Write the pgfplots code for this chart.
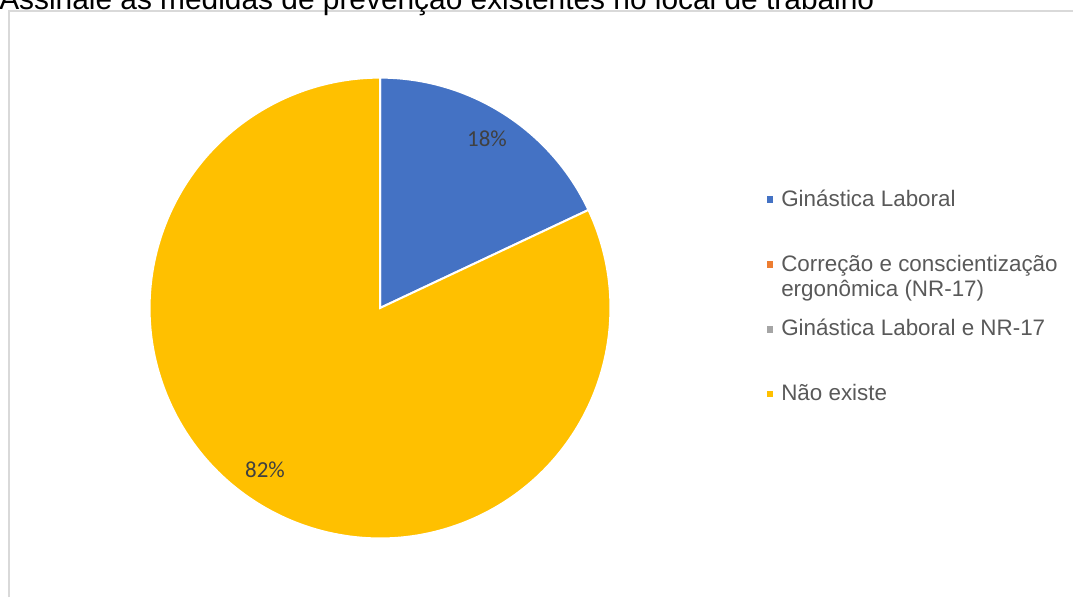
\documentclass[border=0pt]{standalone}
\usepackage{pgfplots}
\pgfplotsset{compat=1.18}
\usepackage{fontspec}
\setmainfont{Liberation Sans}
\newfontfamily\calibri{Carlito}
\definecolor{cBlue}{HTML}{4472C4}
\definecolor{cOrange}{HTML}{ED7D31}
\definecolor{cGray}{HTML}{A5A5A5}
\definecolor{cYellow}{HTML}{FFC000}
\definecolor{legtext}{HTML}{595959}
\definecolor{labtext}{HTML}{404040}
\definecolor{frame}{HTML}{D9D9D9}
% data (percent)
\def\vA{18}  % Ginástica Laboral
\def\vB{0}   % Correção e conscientização ergonômica (NR-17)
\def\vC{0}   % Ginástica Laboral e NR-17
\def\vD{82}  % Não existe
\pgfmathsetmacro\aA{90}
\pgfmathsetmacro\aB{\aA-3.6*\vA}
\pgfmathsetmacro\aC{\aB-3.6*\vB}
\pgfmathsetmacro\aD{\aC-3.6*\vC}
\pgfmathsetmacro\aE{\aD-3.6*\vD}
\def\R{172.8pt}
\begin{document}
\begin{tikzpicture}
\begin{axis}[
  width=804.75pt, height=447.75pt, scale only axis,
  xmin=0, xmax=1073, ymin=0, ymax=597, y dir=reverse,
  hide axis, clip=false]
% frame
\draw[frame, line width=1.2pt] (axis cs:9,597) -- (axis cs:9,11) -- (axis cs:1073,11);
% title
\node[anchor=base west, font=\fontsize{22.4pt}{26pt}\selectfont, text=black, inner sep=0pt] at (axis cs:-1,9) {Assinale as medidas de prevenção existentes no local de trabalho};
% pie slices
\fill[cBlue, draw=white, line width=1.5pt] (axis cs:380,308) -- ++(\aA:\R) arc[start angle=\aA, end angle=\aB, radius=\R] -- cycle;
\fill[cYellow, draw=white, line width=1.5pt] (axis cs:380,308) -- ++(\aD:\R) arc[start angle=\aD, end angle=\aE, radius=\R] -- cycle;
% data labels
\node[anchor=base, font=\calibri\fontsize{17.2pt}{20pt}\selectfont, text=labtext, inner sep=0pt] at (axis cs:487,146) {\vA\%};
\node[anchor=base, font=\calibri\fontsize{17.2pt}{20pt}\selectfont, text=labtext, inner sep=0pt] at (axis cs:265,477.5) {\vD\%};
% legend
\fill[cBlue] (axis cs:766.5,196) rectangle (axis cs:773,202.5);
\fill[cOrange] (axis cs:766.5,261) rectangle (axis cs:773,267.5);
\fill[cGray] (axis cs:766.5,326) rectangle (axis cs:773,332.5);
\fill[cYellow] (axis cs:766.5,390.5) rectangle (axis cs:773,397);
\begin{scope}[every node/.style={anchor=base west, font=\fontsize{16.8pt}{20pt}\selectfont, text=legtext, inner sep=0pt}]
\node at (axis cs:781,206) {Ginástica Laboral};
\node at (axis cs:781,271) {Correção e conscientização};
\node at (axis cs:781,296.5) {ergonômica (NR-17)};
\node at (axis cs:781,335.5) {Ginástica Laboral e NR-17};
\node at (axis cs:781,400) {Não existe};
\end{scope}
\end{axis}
\pgfresetboundingbox
\path[use as bounding box] (current axis.south west) rectangle (current axis.north east);
\end{tikzpicture}
\end{document}
